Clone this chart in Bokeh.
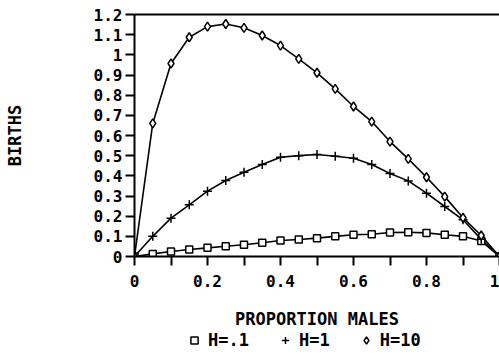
from bokeh.plotting import figure
from bokeh.layouts import column
from bokeh.models import (Range1d, FixedTicker, CustomJSTickFormatter, Legend,
                          LegendItem, LinearAxis, ColumnDataSource)
from bokeh.embed import file_html
from bokeh.resources import INLINE

# ---- data ----
prop_males = [0.0, 0.05, 0.10, 0.15, 0.20, 0.25, 0.30, 0.35, 0.40, 0.45, 0.50,
              0.55, 0.60, 0.65, 0.70, 0.75, 0.80, 0.85, 0.90, 0.95, 1.0]
births_h01 = [0.0, 0.013, 0.025, 0.035, 0.043, 0.051, 0.058, 0.068, 0.079, 0.084, 0.091,
              0.100, 0.108, 0.110, 0.119, 0.120, 0.117, 0.108, 0.100, 0.077, 0.0]
births_h1 = [0.0, 0.100, 0.190, 0.256, 0.324, 0.377, 0.418, 0.456, 0.492, 0.500, 0.506,
             0.497, 0.487, 0.456, 0.412, 0.375, 0.314, 0.248, 0.182, 0.085, 0.0]
births_h10 = [0.0, 0.660, 0.957, 1.087, 1.140, 1.153, 1.134, 1.096, 1.046, 0.980, 0.911,
              0.831, 0.744, 0.669, 0.570, 0.484, 0.393, 0.297, 0.192, 0.104, 0.0]
series_labels = ["H=.1", "H=1", "H=10"]
x_ticks = [0.0, 0.2, 0.4, 0.6, 0.8, 1.0]
x_minor = [0.1, 0.3, 0.5, 0.7, 0.9]
y_ticks = [0.0, 0.1, 0.2, 0.3, 0.4, 0.5, 0.6, 0.7, 0.8, 0.9, 1.0, 1.1, 1.2]

FONT = "DejaVu Sans Mono"
FS = "16px"
FS_LBL = "17px"

src = ColumnDataSource(dict(x=prop_males, a=births_h01, b=births_h1, c=births_h10))

p = figure(frame_width=365, frame_height=242, output_backend="svg", toolbar_location=None,
           x_range=Range1d(0, 1.0), y_range=Range1d(0, 1.2),
           min_border_left=134, min_border_right=0, min_border_top=14, min_border_bottom=0)
p.outline_line_color = None
p.grid.visible = False
p.background_fill_color = "white"
p.border_fill_color = "white"

fmt = CustomJSTickFormatter(code="return tick.toFixed(1).replace(/\\.0$/, '');")

for ax in (p.xaxis[0], p.yaxis[0]):
    ax.axis_line_width = 2
    ax.axis_line_color = "black"
    ax.major_tick_line_width = 2
    ax.minor_tick_line_width = 2
    ax.major_tick_in = 0
    ax.major_tick_out = 9
    ax.minor_tick_in = 0
    ax.minor_tick_out = 9
    ax.major_label_text_font = FONT
    ax.major_label_text_font_style = "bold"
    ax.major_label_text_font_size = FS
    ax.major_label_text_color = "black"
    ax.axis_label_text_font = FONT
    ax.axis_label_text_font_style = "bold"
    ax.axis_label_text_font_size = FS_LBL
    ax.axis_label_text_color = "black"
    ax.formatter = fmt

p.xaxis[0].ticker = FixedTicker(ticks=x_ticks, minor_ticks=x_minor)
p.yaxis[0].ticker = FixedTicker(ticks=y_ticks, minor_ticks=[])
p.xaxis[0].axis_label = "PROPORTION MALES"
p.yaxis[0].axis_label = "BIRTHS"
p.xaxis[0].major_label_standoff = 9
p.yaxis[0].major_label_standoff = 3
p.xaxis[0].axis_label_standoff = 19
p.yaxis[0].axis_label_standoff = 66

# top border drawn as a bare axis
top = LinearAxis(ticker=FixedTicker(ticks=[], minor_ticks=[]), axis_line_width=2,
                 axis_line_color="black", major_tick_out=0, major_tick_in=0,
                 minor_tick_out=0, minor_tick_in=0, major_label_text_font_size="0px",
                 major_label_standoff=0, axis_label=None)
p.add_layout(top, "above")

lw = 1.6
p.line("x", "a", source=src, line_color="black", line_width=lw)
p.line("x", "b", source=src, line_color="black", line_width=lw)
p.line("x", "c", source=src, line_color="black", line_width=lw)
mk_a = dict(marker="square", size=7, fill_color="white", line_color="black", line_width=1.5)
mk_b = dict(marker="cross", size=9, line_color="black", line_width=1.5)
mk_c = dict(marker="diamond", size=9, fill_color="white", line_color="black", line_width=1.5)
p.scatter("x", "a", source=src, **mk_a)
p.scatter("x", "b", source=src, **mk_b)
p.scatter("x", "c", source=src, **mk_c)

# legend strip below the chart; its renderers use the same series, kept out of view
lf = figure(width=499, height=20, output_backend="svg", toolbar_location=None,
            x_range=Range1d(0, 1), y_range=Range1d(5, 6),
            x_axis_location=None, y_axis_location=None,
            min_border_left=0, min_border_right=0, min_border_top=0, min_border_bottom=0)
lf.outline_line_color = None
lf.grid.visible = False
lf.background_fill_color = "white"
lf.border_fill_color = "white"
ra = lf.scatter("x", "a", source=src, **mk_a)
rb = lf.scatter("x", "b", source=src, **mk_b)
rc = lf.scatter("x", "c", source=src, **mk_c)

legend = Legend(items=[LegendItem(label=series_labels[0], renderers=[ra], index=0),
                       LegendItem(label=series_labels[1], renderers=[rb], index=0),
                       LegendItem(label=series_labels[2], renderers=[rc], index=0)],
                orientation="horizontal", location=(51, 1),
                label_text_font=FONT, label_text_font_style="bold",
                label_text_font_size=FS_LBL, label_text_color="black",
                label_height=18,
                glyph_width=18, glyph_height=18, label_standoff=5, spacing=27,
                padding=0, margin=0, border_line_color=None,
                background_fill_alpha=0)
lf.add_layout(legend, "center")

page = column(p, lf, spacing=0)
open("out.html", "w").write(file_html(page, INLINE))
